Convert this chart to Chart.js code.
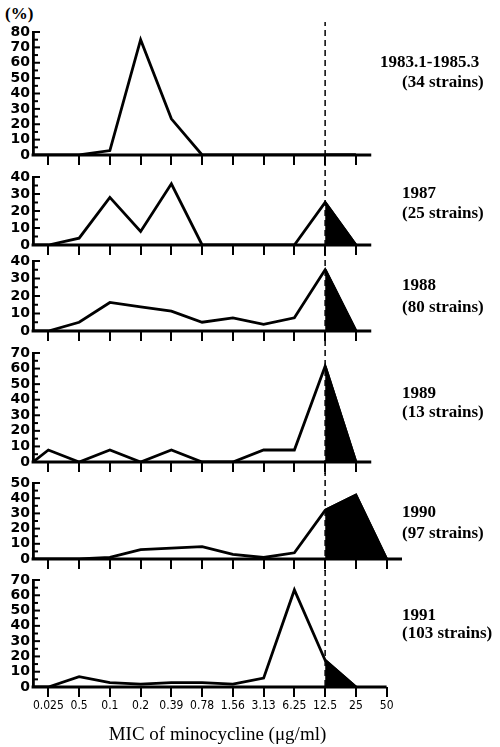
<!DOCTYPE html>
<html>
<head>
<meta charset="utf-8">
<script src="https://cdn.jsdelivr.net/npm/chart.js@4.4.1/dist/chart.umd.min.js"></script>
<style>
  body { margin: 0; background: #fff; }
  #wrap { position: relative; width: 500px; height: 747px; overflow: hidden; }
  #wrap canvas { position: absolute; left: 0; }
  .lbl { position: absolute; font: bold 17px "Liberation Serif", serif; line-height: 20px; color: #000; white-space: nowrap; }
</style>
</head>
<body>
<div id="wrap">
  <div class="lbl" style="left:5px; top:4px;">(%)</div>
</div>
<script>
// MIC bins (as printed on the axis)
const MIC = ['0.025', '0.5', '0.1', '0.2', '0.39', '0.78', '1.56', '3.13', '6.25', '12.5', '25', '50'];
const BREAKPOINT = '12.5';

const PERIODS = ['1983.1-1985.3', '1987', '1988', '1989', '1990', '1991'];
const STRAINS = ['(34 strains)', '(25 strains)', '(80 strains)', '(13 strains)', '(97 strains)', '(103 strains)'];
const Y_MAX = [80, 40, 40, 70, 50, 70];

// % of strains per MIC bin
const PCT_1983 = [0, 0, 2.9, 75, 23.5, 0, 0, 0, 0, 0, 0, null];
const PCT_1987 = [0, 4, 28, 8, 36, 0, 0, 0, 0, 25, 0, null];
const PCT_1988 = [0, 5, 16.3, 13.8, 11.3, 5, 7.5, 3.8, 7.5, 35, 0, null];
const PCT_1989 = [7.7, 0, 7.7, 0, 7.7, 0, 0, 7.7, 7.7, 61.5, 0, null];
const PCT_1990 = [0, 0, 1, 6.2, 7.2, 8.2, 3.1, 1, 4.1, 32, 42, 0];
const PCT_1991 = [0, 6.8, 2.9, 1.9, 2.9, 2.9, 1.9, 5.8, 63.5, 17.5, 0, null];
const SERIES = [PCT_1983, PCT_1987, PCT_1988, PCT_1989, PCT_1990, PCT_1991];

// page geometry of each panel (px): plot top / zero line
const PANELS = [
  { top: 32,  bottom: 155, xh: 12, axisEnd: 10.5, ticks: 10, lblTop: [52, 72],   lblLeft: [380, 402] },
  { top: 177, bottom: 245, xh: 12, axisEnd: 10.5, ticks: 10, lblTop: [183, 203], lblLeft: [402, 402] },
  { top: 261, bottom: 331, xh: 12, axisEnd: 10.5, ticks: 10, lblTop: [275, 297], lblLeft: [402, 402] },
  { top: 353, bottom: 462, xh: 12, axisEnd: 10.5, ticks: 10, lblTop: [383, 402], lblLeft: [402, 402] },
  { top: 483, bottom: 559, xh: 12, axisEnd: 11.5, ticks: 11, lblTop: [502, 523], lblLeft: [402, 402] },
  { top: 580, bottom: 687, xh: 60, axisEnd: 11.0, ticks: 11, lblTop: [605, 623], lblLeft: [402, 402] }
];
const PAD_TOP = 10;
const DASH_TOP = 22;
const X_MIN = -0.5, X_MAX = 11.5;
const LW = 2.8;

const wrap = document.getElementById('wrap');
const bpIdx = MIC.indexOf(BREAKPOINT);

// axis baseline, inward y ticks and the dashed breakpoint line
const panelDecor = {
  id: 'panelDecor',
  beforeDatasetsDraw(chart, args, opts) {
    const { ctx, chartArea } = chart;
    const x = chart.scales.x.getPixelForValue(bpIdx);
    const yStart = Math.max(0, DASH_TOP - opts.pageTop);
    const yEnd = opts.last ? chartArea.bottom : chart.height;
    ctx.save();
    ctx.strokeStyle = '#000';
    ctx.lineWidth = 1.5;
    ctx.setLineDash([6, 4]);
    ctx.lineDashOffset = opts.pageTop + yStart;
    ctx.beginPath();
    ctx.moveTo(x, yStart);
    ctx.lineTo(x, yEnd);
    ctx.stroke();
    ctx.restore();
  },
  afterDraw(chart, args, opts) {
    const { ctx, chartArea } = chart;
    const xs = chart.scales.x, ys = chart.scales.y;
    ctx.save();
    ctx.strokeStyle = '#000';
    ctx.lineWidth = LW;
    const y0 = ys.getPixelForValue(0);
    ctx.beginPath();
    ctx.moveTo(chartArea.left - LW / 2, y0);
    ctx.lineTo(xs.getPixelForValue(opts.axisEnd), y0);
    ctx.stroke();
    ctx.lineWidth = 2;
    ys.ticks.forEach(t => {
      if (t.value === 0) return;
      const y = ys.getPixelForValue(t.value);
      ctx.beginPath();
      ctx.moveTo(chartArea.left, y);
      ctx.lineTo(chartArea.left + (t.value % 10 === 0 ? 7 : 5), y);
      ctx.stroke();
    });
    ctx.restore();
  }
};

PANELS.forEach((p, i) => {
  const last = i === PANELS.length - 1;
  const cTop = p.top - PAD_TOP;
  const h = p.bottom - cTop + p.xh;

  const cv = document.createElement('canvas');
  cv.width = 500;
  cv.height = h;
  cv.style.top = cTop + 'px';
  cv.style.width = '500px';
  cv.style.height = h + 'px';
  wrap.appendChild(cv);

  p.lblTop.forEach((t, k) => {
    const d = document.createElement('div');
    d.className = 'lbl';
    d.style.left = p.lblLeft[k] + 'px';
    d.style.top = t + 'px';
    d.textContent = k === 0 ? PERIODS[i] : STRAINS[i];
    wrap.appendChild(d);
  });

  const vals = SERIES[i];
  const line = [{ x: X_MIN, y: 0 }].concat(
    vals.map((v, k) => ({ x: k, y: v })).filter(d => d.y !== null));
  const resistant = vals.map((v, k) => ({ x: k, y: v }))
    .filter(d => d.y !== null && d.x >= bpIdx);

  const tickVals = [];
  for (let k = 0; k <= p.ticks; k++) tickVals.push(k);

  new Chart(cv, {
    type: 'line',
    data: {
      datasets: [
        { data: resistant, borderColor: '#000', borderWidth: LW, backgroundColor: '#000',
          fill: 'origin', pointRadius: 0, tension: 0 },
        { data: line, borderColor: '#000', borderWidth: LW, fill: false,
          pointRadius: 0, tension: 0, borderJoinStyle: 'miter' }
      ]
    },
    options: {
      responsive: false,
      animation: false,
      devicePixelRatio: 1,
      layout: { padding: { top: PAD_TOP, right: 98, left: 0, bottom: 0 } },
      plugins: {
        legend: { display: false },
        tooltip: { enabled: false },
        panelDecor: { axisEnd: p.axisEnd, pageTop: cTop, last: last }
      },
      scales: {
        x: {
          type: 'linear',
          min: X_MIN,
          max: X_MAX,
          afterBuildTicks: s => { s.ticks = tickVals.map(v => ({ value: v })); },
          afterFit: s => { s.height = p.xh; },
          border: { display: false },
          grid: { drawOnChartArea: false, drawTicks: true, tickLength: 10, lineWidth: 2, color: '#000' },
          ticks: {
            display: last,
            autoSkip: false,
            maxRotation: 0,
            padding: 2,
            color: '#000',
            font: { family: '"DejaVu Sans Condensed", sans-serif', size: 12 },
            callback: v => MIC[v]
          },
          title: {
            display: last,
            text: 'MIC of minocycline (μg/ml)',
            color: '#000',
            padding: { top: 0, bottom: 1 },
            font: { family: '"Liberation Serif", serif', size: 19 }
          }
        },
        y: {
          min: 0,
          max: Y_MAX[i],
          afterFit: s => { s.width = 33; },
          border: { display: true, width: LW, color: '#000' },
          grid: { drawOnChartArea: false, drawTicks: false },
          ticks: {
            stepSize: 5,
            autoSkip: false,
            padding: 3,
            color: '#000',
            font: { family: '"DejaVu Sans", sans-serif', size: 14, weight: 'bold', lineHeight: 1 },
            callback: v => (v % 10 === 0 ? v : '')
          }
        }
      }
    },
    plugins: [panelDecor]
  });
});
</script>
</body>
</html>
